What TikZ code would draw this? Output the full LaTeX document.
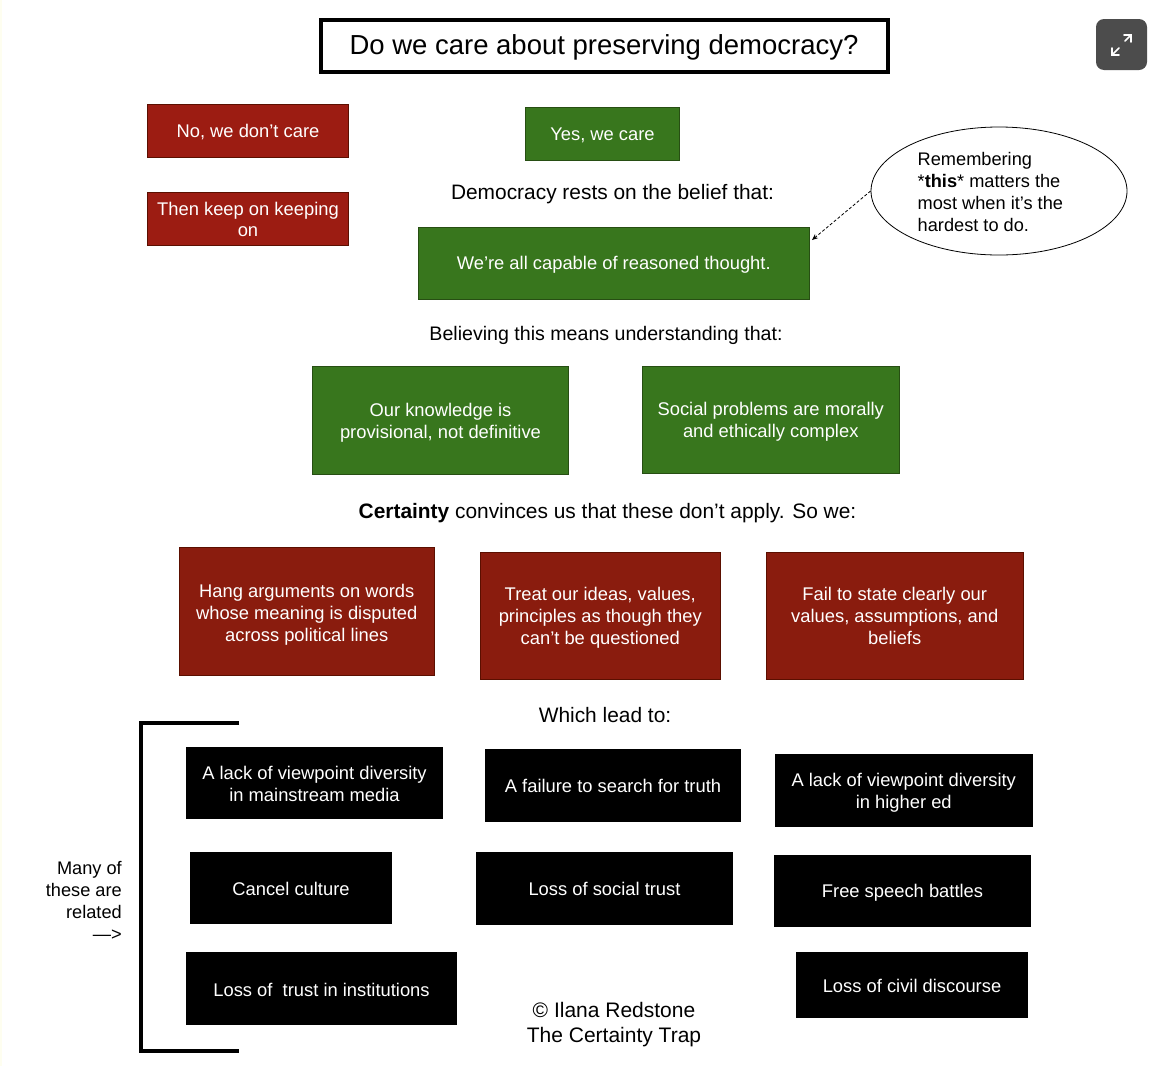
\documentclass[tikz,border=0pt]{standalone}
\usepackage{fontspec}
\setmainfont{Liberation Sans}
\usetikzlibrary{arrows.meta,shapes.geometric}
\definecolor{grn}{HTML}{38761D}
\definecolor{grnb}{HTML}{274E13}
\definecolor{redA}{HTML}{9C1C12}
\definecolor{redB}{HTML}{8A1C0E}
\definecolor{redb}{HTML}{5B0F00}
\tikzset{
  x=1pt,y=-1pt,
  base/.style={inner sep=0pt,align=center,font=\fontsize{18.35}{22}\selectfont},
  greenbox/.style={base,fill=grn,draw=grnb,line width=.8pt,text=white},
  redboxA/.style={base,fill=redA,draw=redb,line width=.8pt,text=white},
  redboxB/.style={base,fill=redB,draw=redb,line width=.8pt,text=white},
  blackbox/.style={base,fill=black,text=white},
  plain/.style={inner sep=0pt,align=center,font=\fontsize{20.9}{25}\selectfont,text=black},
}
% \bx[strut]{name}{style}{x1}{y1}{x2}{y2}{text}
\newcommand{\bx}[8][17.5]{%
  \pgfmathsetmacro{\bxw}{#6-#4}\pgfmathsetmacro{\bxh}{#7-#5}%
  \pgfmathsetmacro{\bxx}{(#4+#6)/2}\pgfmathsetmacro{\bxy}{(#5+#7)/2}%
  \node[#3,minimum width=\bxw pt,minimum height=\bxh pt] (#2) at (\bxx,\bxy) {\rule{0pt}{#1pt}#8};}
\begin{document}
\begin{tikzpicture}
\useasboundingbox (0,0) rectangle (1166,1066);
\fill[white] (0,0) rectangle (1166,1066);
\fill[black!5!yellow!6!white] (0,0) rectangle (2,1066);
% title
\node[inner sep=0pt,minimum width=567pt,minimum height=52pt,draw=black,line width=4pt,font=\fontsize{27.5}{30}\selectfont] (title) at (604,46) {\rule{0pt}{22pt}Do we care about preserving democracy?};
% expand icon
\node[fill=black!70,rounded corners=8pt,minimum size=51pt,inner sep=0pt] (icon) at (1121.5,44.5) {};
\draw[white,line width=1.7pt,line cap=round] (1112,55) -- (1119,48) (1125,41) -- (1131,35);
\draw[white,line width=1.7pt,line cap=round,line join=miter] (1112,48) -- (1112,55) -- (1119,55) (1124,35) -- (1131,35) -- (1131,42);
% top boxes
\bx[15.5]{no}{redboxA}{147.5}{104.5}{348.5}{157.5}{No, we don’t care}
\bx[15.5]{keep}{redboxA,font=\fontsize{18.35}{21.5}\selectfont}{147.5}{192}{348.5}{245}{Then keep on keeping\\on}
\bx[15.5]{yes}{greenbox}{525.5}{107.5}{679.5}{160.5}{Yes, we care}
\node[plain] (rests) at (612.5,194) {Democracy rests on the belief that:};
\bx{reason}{greenbox}{418.5}{227}{809}{299}{We’re all capable of reasoned thought.}
% ellipse
\node[ellipse,draw=black,line width=.8pt,inner sep=0pt,minimum width=256pt,minimum height=128pt] (ell) at (999,191) {};
\node[inner sep=0pt,align=left,anchor=west,font=\fontsize{18.2}{22}\selectfont] (elltext) at (917.5,192) {Remembering\\*\textbf{this}* matters the\\most when it’s the\\hardest to do.};
\draw[densely dashed,line width=.8pt,-{Stealth[length=6pt,width=5pt]}] (ell.west) -- (812,240);
\node[plain,font=\fontsize{19.6}{24}\selectfont] (means) at (606,335) {Believing this means understanding that:};
\bx[19.5]{know}{greenbox}{312.5}{366}{568.5}{474}{Our knowledge is\\provisional, not definitive}
\bx{social}{greenbox}{642.5}{366}{899}{473}{Social problems are morally\\and ethically complex}
\node[plain] (cert) at (607.5,513) {\textbf{Certainty} convinces us that these don’t apply. So we:};
\bx[19.5]{hang}{redboxB}{179}{547.5}{434.5}{675.5}{Hang arguments on words\\whose meaning is disputed\\across political lines}
\bx{treat}{redboxB}{480.5}{552}{720}{679.5}{Treat our ideas, values,\\principles as though they\\can’t be questioned}
\bx[13.5]{fail}{redboxB}{766.5}{552}{1023}{679.5}{Fail to state clearly our\\values, assumptions, and\\beliefs}
\node[plain] (lead) at (605,715) {Which lead to:};
% black boxes
\bx[15.5]{media}{blackbox,font=\fontsize{18.35}{21.5}\selectfont}{186}{747}{443}{819}{A lack of viewpoint diversity\\in mainstream media}
\bx[13.5]{search}{blackbox}{485}{749}{741}{822}{A failure to search for truth}
\bx{highered}{blackbox}{775}{754}{1032.5}{827}{A lack of viewpoint diversity\\in higher ed}
\bx[15.5]{cancel}{blackbox}{190}{852}{392}{924}{Cancel culture}
\bx[13.5]{socialtrust}{blackbox}{476}{852}{733}{925}{Loss of social trust}
\bx{speech}{blackbox}{774}{855}{1031}{927}{Free speech battles}
\bx{inst}{blackbox}{186}{952}{457}{1024.5}{Loss of\ \ trust in institutions}
\bx[15.5]{civil}{blackbox}{796}{952}{1028}{1018}{Loss of civil discourse}
\node[plain,font=\fontsize{21}{25}\selectfont] (copy) at (614,1024.5) {© Ilana Redstone\\The Certainty Trap};
% bracket
\node[inner sep=0pt,align=right,anchor=east,font=\fontsize{18.2}{22}\selectfont] (many) at (122,901) {Many of\\these are\\related\\—>};
\coordinate (brA) at (239,722.5);
\coordinate (brB) at (140.5,722.5);
\coordinate (brC) at (140.5,1051);
\coordinate (brD) at (239,1051);
\draw[line width=4pt,line join=miter] (brA) -- (brB) -- (brC) -- (brD);
\end{tikzpicture}
\end{document}
